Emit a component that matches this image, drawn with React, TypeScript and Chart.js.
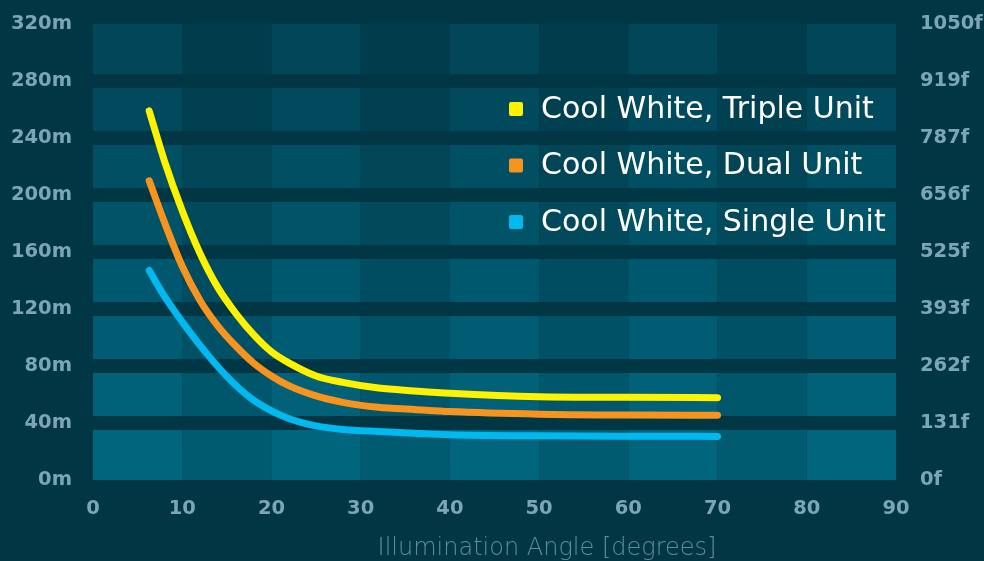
import React, { useEffect, useRef } from "react";
import { Chart, registerables } from "chart.js";

Chart.register(...registerables);

const angles = [6.3, 8, 10, 12, 14, 16, 18, 20, 22, 25, 28, 32, 36, 40, 50, 60, 70];
const tripleUnit = [259, 224, 189, 159, 135, 117, 102, 90, 82, 73, 68.5, 64.5, 62.5, 60.8, 58.4, 58, 57.8];
const dualUnit = [210, 181, 150, 126, 108, 94, 82, 73, 66, 59, 54.5, 51, 49.5, 48, 46.2, 45.6, 45.4];
const singleUnit = [147, 129, 111, 94.5, 79.5, 66.5, 56, 48.5, 43, 38, 35.5, 34, 32.8, 31.8, 31, 30.7, 30.6];

const seriesNames = ["Cool White, Triple Unit", "Cool White, Dual Unit", "Cool White, Single Unit"];
const seriesColors = ["#fff200", "#f7941d", "#00b9f1"];

const leftTickLabels = ["0m", "40m", "80m", "120m", "160m", "200m", "240m", "280m", "320m"];
const rightTickLabels = ["0f", "131f", "262f", "393f", "525f", "656f", "787f", "919f", "1050f"];
const xTitle = "Illumination Angle [degrees]";

const BG = "#013645";
const TICK = "#7ca6b8";
const FONT = "'DejaVu Sans', sans-serif";

function mix(a: number[], b: number[], t: number) {
  return `rgb(${a.map((v, i) => Math.round(v + (b[i] - v) * t)).join(",")})`;
}

const bandsPlugin = {
  id: "bands",
  beforeDatasetsDraw(chart: any) {
    const ctx = chart.ctx;
    const xs = chart.scales.x;
    const ys = chart.scales.y;
    const gap = 7;
    const yVals = [0, 40, 80, 120, 160, 200, 240, 280, 320];
    const xVals = [0, 10, 20, 30, 40, 50, 60, 70, 80, 90];
    const nb = yVals.length - 1;
    ctx.save();
    for (let i = 0; i < nb; i++) {
      const t = i / (nb - 1); // 0 bottom, 1 top
      const light = mix([0, 101, 125], [1, 70, 89], t);
      const dark = mix([0, 90, 112], [1, 60, 76], t);
      let yb = ys.getPixelForValue(yVals[i]);
      let yt = ys.getPixelForValue(yVals[i + 1]);
      if (i > 0) yb -= gap;
      if (i < nb - 1) yt += gap;
      for (let j = 0; j < xVals.length - 1; j++) {
        const x0 = xs.getPixelForValue(xVals[j]);
        const x1 = xs.getPixelForValue(xVals[j + 1]);
        ctx.fillStyle = j % 2 === 0 ? light : dark;
        ctx.fillRect(x0, yt, x1 - x0, yb - yt);
      }
    }
    ctx.restore();
  },
  afterDraw(chart: any) {
    const ctx = chart.ctx;
    ctx.save();
    const ds = chart.data.datasets;
    ctx.font = `400 30px ${FONT}`;
    ctx.textBaseline = "middle";
    ctx.textAlign = "left";
    for (let i = 0; i < ds.length; i++) {
      const cy = 109 + i * 56.5;
      ctx.fillStyle = ds[i].borderColor;
      ctx.beginPath();
      (ctx as any).roundRect(509, cy - 7, 14, 14, 2);
      ctx.fill();
      ctx.fillStyle = "#ffffff";
      ctx.fillText(ds[i].label, 541, cy + 1);
    }
    ctx.font = `200 24px ${FONT}`;
    ctx.fillStyle = "#5e8d9e";
    ctx.textAlign = "center";
    ctx.fillText(xTitle, 547, 549);
    ctx.restore();
  },
};

export default function App() {
  const ref = useRef<HTMLCanvasElement>(null);
  useEffect(() => {
    document.body.style.margin = "0";
    document.body.style.background = BG;
    const tickFont = { family: FONT, size: 19.5, weight: "bold" as const };
    const fitY = (w: number) => (s: any) => {
      s.width = w;
      s.paddingTop = 0;
      s.paddingBottom = 0;
    };
    const chart = new Chart(ref.current!, {
      type: "line",
      data: {
        datasets: [tripleUnit, dualUnit, singleUnit].map((vals, k) => ({
          label: seriesNames[k],
          data: angles.map((a, i) => ({ x: a, y: vals[i] })),
          borderColor: seriesColors[k],
          backgroundColor: seriesColors[k],
          borderWidth: 7,
          borderCapStyle: "round" as const,
          borderJoinStyle: "round" as const,
          pointRadius: 0,
          cubicInterpolationMode: "monotone" as const,
          yAxisID: "y",
        })),
      },
      options: {
        animation: false,
        responsive: true,
        maintainAspectRatio: false,
        layout: { padding: { top: 24, left: 0, right: 0, bottom: 0 } },
        plugins: { legend: { display: false }, tooltip: { enabled: false } },
        scales: {
          x: {
            type: "linear",
            min: 0,
            max: 90,
            grid: { display: false },
            border: { display: false },
            ticks: { stepSize: 10, color: TICK, font: tickFont, padding: 9, maxRotation: 0 },
            afterFit: (s: any) => {
              s.height = 81;
              s.paddingLeft = 0;
              s.paddingRight = 0;
            },
          },
          y: {
            type: "linear",
            position: "left",
            min: 0,
            max: 320,
            grid: { display: false },
            border: { display: false },
            ticks: {
              stepSize: 40,
              color: TICK,
              font: tickFont,
              padding: 13,
              callback: (_v: any, i: number) => leftTickLabels[i],
            },
            afterFit: fitY(93),
          },
          y2: {
            type: "linear",
            position: "right",
            min: 0,
            max: 1050,
            grid: { display: false },
            border: { display: false },
            ticks: {
              stepSize: 131.25,
              color: TICK,
              font: tickFont,
              padding: 16,
              callback: (_v: any, i: number) => rightTickLabels[i],
            },
            afterFit: fitY(88),
          },
        },
      },
      plugins: [bandsPlugin],
    });
    return () => chart.destroy();
  }, []);
  return (
    <div style={{ width: 984, height: 561, background: BG, position: "relative" }}>
      <canvas ref={ref} />
    </div>
  );
}
